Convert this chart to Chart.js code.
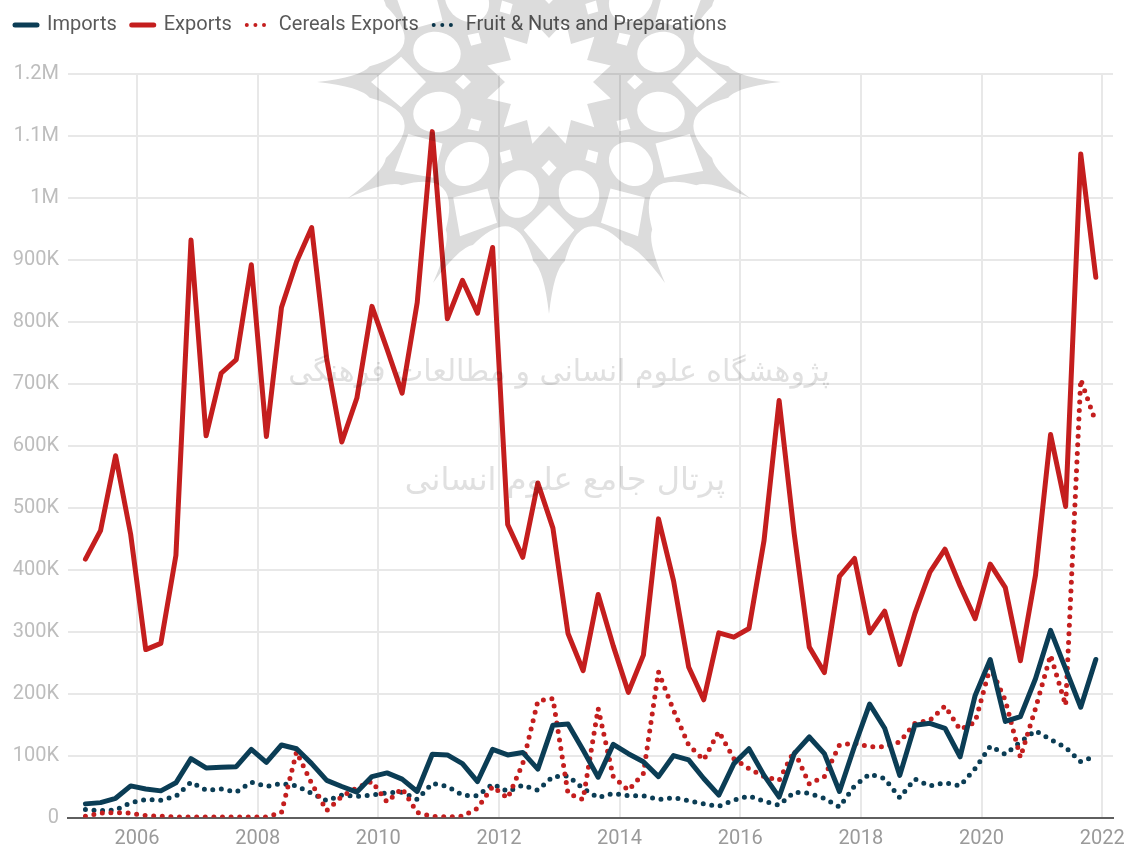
<!DOCTYPE html>
<html>
<head>
<meta charset="utf-8">
<title>Imports and Exports</title>
<script src="https://cdn.jsdelivr.net/npm/chart.js@4/dist/chart.umd.min.js"></script>
<style>
  html, body { margin: 0; padding: 0; background: #fff; overflow: hidden; }
  #wrap { position: relative; width: 1125px; height: 846px; }
  #myChart { position: absolute; left: 0; top: 0; }
  #mark { position: absolute; left: 0; top: 0; mix-blend-mode: multiply; pointer-events: none; }
  #mark text { font-family: "DejaVu Sans"; fill: #e0e0e0; text-anchor: middle; }
</style>
</head>
<body>
<div id="wrap">
  <canvas id="myChart" width="1125" height="846"></canvas>
  <svg id="mark" width="1125" height="846">
    <g id="rosette"></g>
    <text id="line1" x="559" y="381" font-size="30" direction="rtl">پژوهشگاه علوم انسانی و مطالعات فرهنگی</text>
    <text id="line2" x="565" y="490" font-size="32" direction="rtl">پرتال جامع علوم انسانی</text>
  </svg>
</div>
<script>
'use strict';
// values in thousands, one point per quarter from 2005 to 2021
let quarters = [
  2005.145, 2005.395, 2005.645, 2005.895, 2006.145, 2006.395, 2006.645, 2006.895,
  2007.145, 2007.395, 2007.645, 2007.895, 2008.145, 2008.395, 2008.645, 2008.895,
  2009.145, 2009.395, 2009.645, 2009.895, 2010.145, 2010.395, 2010.645, 2010.895,
  2011.145, 2011.395, 2011.645, 2011.895, 2012.145, 2012.395, 2012.645, 2012.895,
  2013.145, 2013.395, 2013.645, 2013.895, 2014.145, 2014.395, 2014.645, 2014.895,
  2015.145, 2015.395, 2015.645, 2015.895, 2016.145, 2016.395, 2016.645, 2016.895,
  2017.145, 2017.395, 2017.645, 2017.895, 2018.145, 2018.395, 2018.645, 2018.895,
  2019.145, 2019.395, 2019.645, 2019.895, 2020.145, 2020.395, 2020.645, 2020.895,
  2021.145, 2021.395, 2021.645, 2021.895
];
let imports = [
  22, 24, 31, 51, 46, 43, 56, 95, 80, 81, 82, 110, 89, 117, 111, 87,
  60, 50, 41, 66, 72, 62, 42, 102, 101, 87, 58, 110, 101, 105, 78, 149,
  151, 109, 65, 118, 103, 90, 66, 100, 93, 63, 36, 87, 111, 68, 33, 103,
  130, 103, 42, 115, 183, 144, 68, 149, 152, 144, 98, 197, 255, 155, 163, 224,
  302, 240, 178, 255
];
let exports_ = [
  417, 463, 584, 457, 271, 281, 423, 932, 616, 717, 739, 892, 615, 823, 897, 952,
  740, 606, 677, 825, 756, 685, 831, 1107, 805, 867, 814, 920, 473, 420, 540, 467,
  297, 237, 360, 277, 202, 262, 482, 382, 243, 190, 298, 291, 305, 447, 673, 458,
  275, 234, 389, 418, 298, 333, 247, 329, 396, 433, 374, 321, 409, 371, 253, 391,
  618, 502, 1071, 872
];
let cereals = [
  2, 7, 8, 7, 3, 2, 1, 1, 1, 1, 1, 1, 1, 8, 106, 55,
  11, 34, 48, 58, 25, 47, 8, 2, 1, 2, 15, 50, 31, 87, 188, 192,
  39, 29, 176, 66, 44, 71, 235, 173, 117, 93, 139, 95, 79, 66, 60, 108,
  54, 66, 117, 120, 114, 114, 122, 152, 157, 180, 142, 154, 243, 189, 97, 176,
  262, 181, 707, 638
];
let fruit = [
  13, 11, 12, 24, 29, 28, 34, 57, 44, 46, 41, 57, 50, 55, 51, 39,
  27, 36, 34, 36, 40, 41, 29, 55, 50, 36, 35, 54, 42, 52, 44, 66,
  67, 47, 32, 39, 35, 35, 29, 32, 27, 22, 18, 28, 35, 26, 20, 41,
  39, 31, 17, 51, 70, 63, 32, 62, 51, 56, 51, 79, 115, 102, 122, 140,
  126, 113, 90, 99
];
let yearTicks = [2006, 2008, 2010, 2012, 2014, 2016, 2018, 2020, 2022];
let yTickLabels = ['0', '100K', '200K', '300K', '400K', '500K', '600K', '700K', '800K', '900K', '1M', '1.1M', '1.2M'];

let navy = '#0b3d55';
let red = '#c41e1e';

function toPoints(values) {
  return values.map(function (v, i) {
    return { x: quarters[i], y: v };
  });
}

function lineSet(label, values, color, dotted) {
  return {
    label: label,
    data: toPoints(values),
    borderColor: color,
    backgroundColor: color,
    borderWidth: 5,
    borderDash: dotted ? [0, 8.6] : [],
    borderCapStyle: 'round',
    borderJoinStyle: 'round',
    pointRadius: 0,
    tension: 0
  };
}

// legend is followed by a gap before the plot starts
let legendGap = {
  id: 'legendGap',
  beforeInit: function (chart) {
    let fit = chart.legend.fit;
    chart.legend.fit = function () {
      fit.call(this);
      this.height = 74;
    };
  }
};

// the default legend items lose the dash when point styles are on
function legendItems(chart) {
  let items = Chart.defaults.plugins.legend.labels.generateLabels(chart);
  items.forEach(function (item) {
    let set = chart.data.datasets[item.datasetIndex];
    item.lineDash = set.borderDash;
    item.lineCap = 'round';
    item.lineWidth = set.borderDash.length ? 4 : 5;
  });
  return items;
}

let ctx = document.getElementById('myChart').getContext('2d');
let myChart = new Chart(ctx, {
  type: 'line',
  data: {
    datasets: [
      lineSet('Imports', imports, navy, false),
      lineSet('Exports', exports_, red, false),
      lineSet('Cereals Exports', cereals, red, true),
      lineSet('Fruit & Nuts and Preparations', fruit, navy, true)
    ]
  },
  plugins: [legendGap],
  options: {
    responsive: false,
    animation: false,
    layout: { padding: { left: 0, right: 12, top: 0, bottom: 0 } },
    plugins: {
      tooltip: { enabled: false },
      legend: {
        position: 'top',
        align: 'start',
        labels: {
          usePointStyle: true,
          pointStyle: 'line',
          pointStyleWidth: 22,
          boxHeight: 8,
          padding: 15,
          color: '#5a5a5a',
          font: { family: 'Roboto', size: 20 },
          generateLabels: legendItems
        }
      }
    },
    scales: {
      x: {
        type: 'linear',
        min: 2004.856,
        max: 2022.18,
        afterBuildTicks: function (axis) {
          axis.ticks = yearTicks.map(function (y) { return { value: y }; });
        },
        afterFit: function (axis) {
          axis.height = 28.5;
          axis.paddingRight = 0;
        },
        border: { display: true, color: '#5f5f5f', width: 2 },
        grid: { color: '#e8e8e8', lineWidth: 2, drawTicks: false },
        ticks: {
          autoSkip: false,
          maxRotation: 0,
          padding: 9,
          color: '#9a9a9a',
          font: { family: 'Roboto', size: 20 },
          callback: function (v) { return String(v); }
        }
      },
      y: {
        min: 0,
        max: 1200,
        afterFit: function (axis) { axis.width = 68; },
        border: { display: false },
        grid: { color: '#e8e8e8', lineWidth: 2, drawTicks: false },
        ticks: {
          stepSize: 100,
          padding: 9,
          color: '#bdbdbd',
          font: { family: 'Roboto', size: 20 },
          callback: function (v, i) { return yTickLabels[i]; }
        }
      }
    }
  }
});

// watermark rosette, twelve fold
function polar(r, deg) {
  let a = deg * Math.PI / 180;
  return (549 + r * Math.cos(a)).toFixed(1) + ' ' + (82 + r * Math.sin(a)).toFixed(1);
}

function drawRosette() {
  let outline = '';
  let kites = '';
  let diamonds = '';
  let star = '';
  let ovals = '';
  for (let k = 0; k < 12; k++) {
    let a = k * 30;
    outline += (k === 0 ? 'M' : 'L') + polar(232, a) +
      ' Q' + polar(188, a + 1.5) + ' ' + polar(180, a + 5) +
      ' Q' + polar(123, a + 15) + ' ' + polar(180, a + 25) +
      ' Q' + polar(188, a + 28.5) + ' ' + polar(232, a + 30) + ' ';
    kites += 'M' + polar(123, a) + ' L' + polar(150, a + 9.7) + ' L' + polar(178, a) + ' L' + polar(150, a - 9.7) + 'Z ';
    diamonds += 'M' + polar(78, a) + ' L' + polar(86, a + 5) + ' L' + polar(94, a) + ' L' + polar(86, a - 5) + 'Z ';
    star += (k === 0 ? 'M' : 'L') + polar(44, a) + ' L' + polar(64, a + 15) + ' ';
    let c = polar(116, a + 15).split(' ');
    ovals += '<ellipse cx="' + c[0] + '" cy="' + c[1] + '" rx="24" ry="20" fill="#fff" transform="rotate(' + (a + 15) + ' ' + c[0] + ' ' + c[1] + ')"></ellipse>';
  }
  document.getElementById('rosette').innerHTML =
    '<path d="' + outline + 'Z" fill="#dcdcdc"></path>' +
    '<path d="' + kites + diamonds + star + 'Z" fill="#fff"></path>' + ovals;
}

drawRosette();
</script>
</body>
</html>
